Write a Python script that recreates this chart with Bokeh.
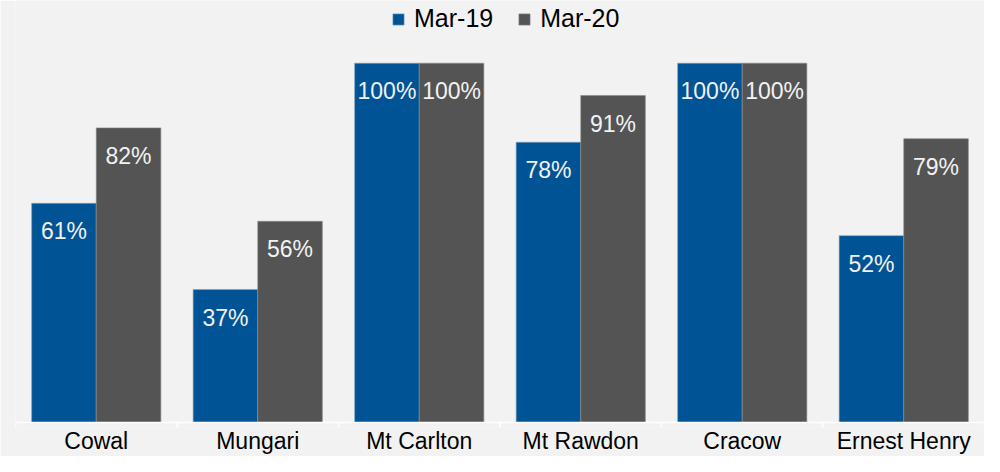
from bokeh.plotting import figure
from bokeh.models import FixedTicker, Range1d
from bokeh.core.properties import value
from bokeh.embed import file_html
from bokeh.resources import INLINE

categories = ["Cowal", "Mungari", "Mt Carlton", "Mt Rawdon", "Cracow", "Ernest Henry"]
mar19 = [61, 37, 100, 78, 100, 52]
mar20 = [82, 56, 100, 91, 100, 79]
series_names = ["Mar-19", "Mar-20"]

BLUE = "#005496"
GREY = "#545454"
BG = "#F2F2F2"
FONT = "Liberation Sans"

idx = list(range(len(categories)))
x19 = [i + 0.3 for i in idx]
x20 = [i + 0.7 for i in idx]
lab19 = [f"{v}%" for v in mar19]
lab20 = [f"{v}%" for v in mar20]
bounds = list(range(len(categories) + 1))

y_start, y_end = -1.385, 117.45

p = figure(width=984, height=456, output_backend="svg", toolbar_location=None,
           x_range=Range1d(0, len(categories)), y_range=Range1d(y_start, y_end),
           y_axis_location=None,
           min_border_left=15, min_border_right=0, min_border_top=0, min_border_bottom=0)
p.background_fill_color = BG
p.border_fill_color = BG
p.outline_line_color = None
p.grid.visible = False

p.vbar(x=x19, top=mar19, bottom=0, width=0.4, fill_color=BLUE, line_color="#7F9FC0",
       line_width=0.6, legend_label=series_names[0])
p.vbar(x=x20, top=mar20, bottom=0, width=0.4, fill_color=GREY, line_color="#8A8A8A",
       line_width=0.6, legend_label=series_names[1])

for xs, ys, labs in ((x19, mar19, lab19), (x20, mar20, lab20)):
    p.text(x=xs, y=ys, text=labs, text_align="center", text_baseline="middle",
           y_offset=28, text_font=value(FONT), text_font_size="23px", text_color=BG)

# axis line and category boundary ticks
p.segment(x0=[bounds[0]], y0=[0], x1=[bounds[-1]], y1=[0], line_color="white", line_width=1.5)
p.segment(x0=bounds, y0=[0] * len(bounds), x1=bounds, y1=[y_start] * len(bounds),
          line_color="white", line_width=1.5)

ax = p.xaxis[0]
ax.ticker = FixedTicker(ticks=[i + 0.5 for i in idx])
ax.major_label_overrides = {i + 0.5: c for i, c in zip(idx, categories)}
ax.major_tick_out = 0
ax.major_tick_in = 0
ax.minor_tick_line_color = None
ax.axis_line_color = None
ax.major_label_standoff = 0
ax.major_label_text_font = FONT
ax.major_label_text_font_size = "23px"
ax.major_label_text_color = "black"

lg = p.legend[0]
lg.location = (376, 394)
lg.orientation = "horizontal"
lg.label_text_font = FONT
lg.label_text_font_size = "25px"
lg.label_text_color = "black"
lg.glyph_width = 14
lg.glyph_height = 14
lg.label_standoff = 9
lg.spacing = 24
lg.padding = 0
lg.margin = 0
lg.background_fill_alpha = 0
lg.border_line_color = None

open("out.html", "w").write(file_html(p, INLINE))
